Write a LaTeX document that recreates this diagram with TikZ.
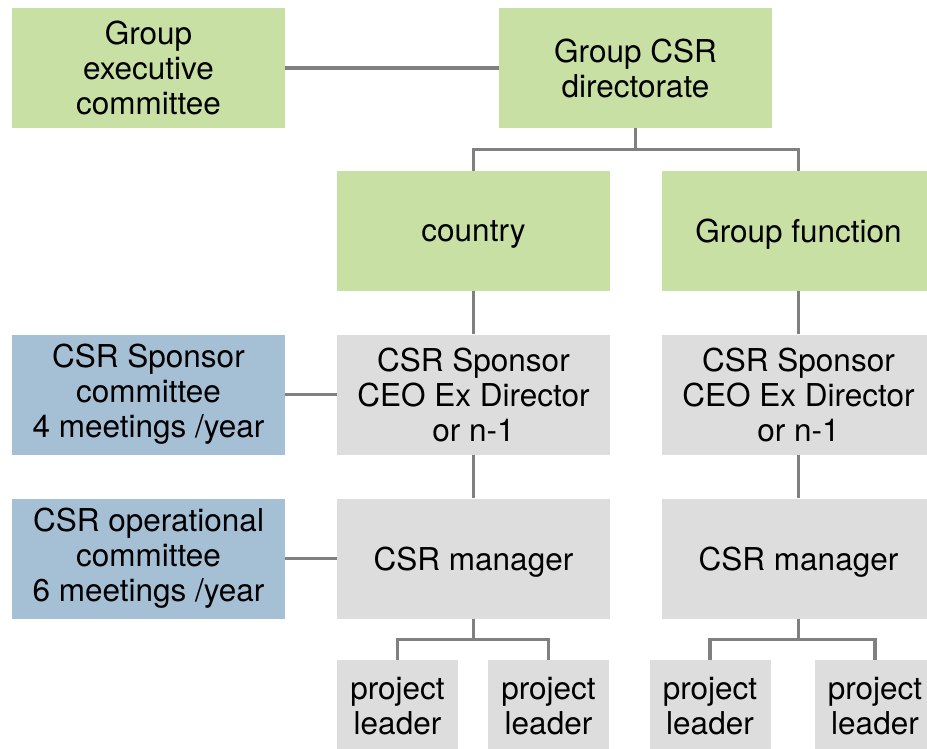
\documentclass[tikz,border=0pt]{standalone}
\usepackage{fontspec}
\setmainfont{TeX Gyre Heros}
\usepackage{tikz}
\usetikzlibrary{calc,positioning}
\usepackage{xcolor}
\definecolor{leafgreen}{RGB}{201,224,165}
\definecolor{boardblue}{RGB}{165,191,212}
\definecolor{unitgray}{RGB}{221,221,221}
\definecolor{linkgray}{RGB}{128,128,128}

\tikzset{
  orgbox/.style={minimum width=273pt, minimum height=120pt, inner sep=0pt,
    align=center, font=\fontsize{31.5}{35}\selectfont},
  greenbox/.style={orgbox, fill=leafgreen},
  bluebox/.style={orgbox, fill=boardblue},
  graybox/.style={orgbox, fill=unitgray},
  oneline/.style={text depth=0pt},
  leaderbox/.style={graybox, minimum width=121pt, minimum height=92pt},
  link/.style={draw=linkgray, line width=3.5pt}
}

\begin{document}
\begin{tikzpicture}[x=1pt,y=1pt]
  \clip (0,0) rectangle (927,-748);
  % top row
  \node[greenbox] (gec) at (148.5,-68) {Group\\executive\\committee};
  \node[greenbox] (dir) at (635.5,-68) {Group CSR\\directorate};
  % branches
  \node[greenbox,oneline] (country) at (473.5,-231) {country};
  \node[greenbox,oneline] (func) at (798.5,-231) {Group function};
  % sponsors
  \node[bluebox] (spcom) at (148.5,-394.5) {CSR Sponsor\\committee\\4 meetings /year};
  \node[graybox] (spL) at (473.5,-394.5) {CSR Sponsor\\CEO Ex Director\\or n-1};
  \node[graybox] (spR) at (798.5,-394.5) {CSR Sponsor\\CEO Ex Director\\or n-1};
  % managers
  \node[bluebox] (opcom) at (148.5,-558.5) {CSR operational\\committee\\6 meetings /year};
  \node[graybox,oneline] (mgrL) at (473.5,-558.5) {CSR manager};
  \node[graybox,oneline] (mgrR) at (798.5,-558.5) {CSR manager};
  % project leaders
  \node[leaderbox] (plA) at (397.5,-706) {project\\leader};
  \node[leaderbox] (plB) at (548.5,-706) {project\\leader};
  \node[leaderbox] (plC) at (710,-706) {project\\leader};
  \node[leaderbox] (plD) at (875,-706) {project\\leader};

  % connectors
  \draw[link] (gec.east) -- (dir.west);
  \coordinate (fork0) at ($(dir.south)!.5!(dir.south|-country.north)$);
  \draw[link] (dir.south) -- (fork0) -| (country.north);
  \draw[link] (fork0) -| (func.north);
  \draw[link] (country.south) -- (spL.north);
  \draw[link] (func.south) -- (spR.north);
  \draw[link] (spL.south) -- (mgrL.north);
  \draw[link] (spR.south) -- (mgrR.north);
  \draw[link] (spcom.east) -- (spL.west);
  \draw[link] (opcom.east) -- (mgrL.west);
  \coordinate (forkL) at ($(mgrL.south)!.5!(mgrL.south|-plA.north)$);
  \draw[link] (mgrL.south) -- (forkL) -| (plA.north);
  \draw[link] (forkL) -| (plB.north);
  \coordinate (forkR) at ($(mgrR.south)!.5!(mgrR.south|-plC.north)$);
  \draw[link] (mgrR.south) -- (forkR) -| (plC.north);
  \draw[link] (forkR) -| (plD.north);
\end{tikzpicture}
\end{document}
